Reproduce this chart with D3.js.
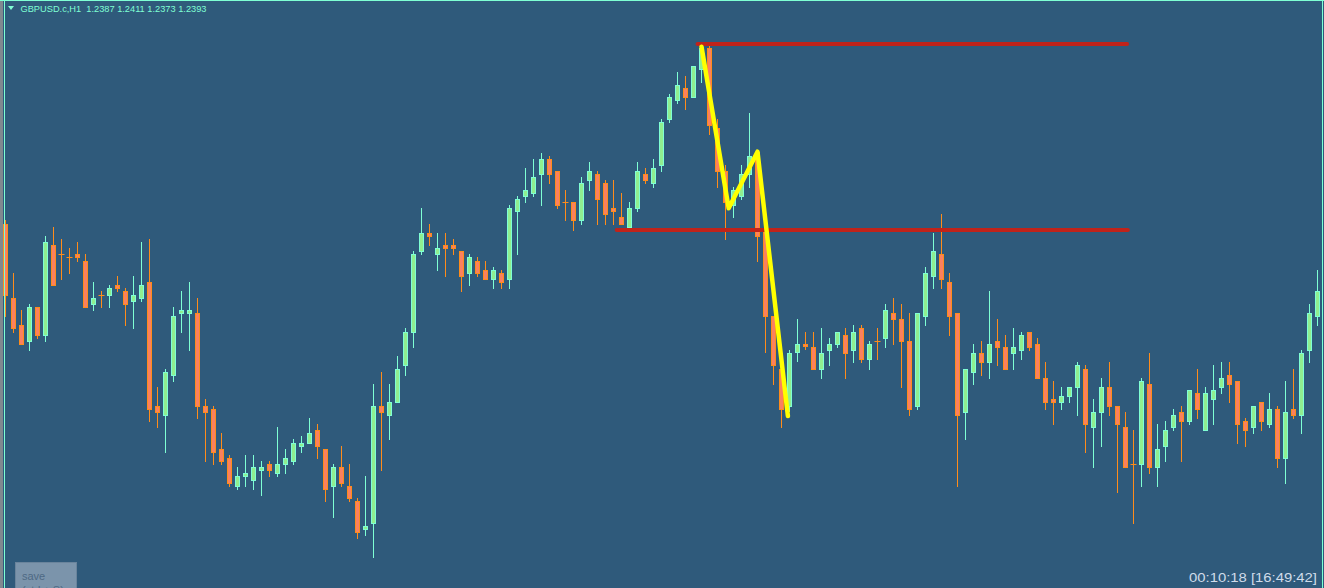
<!DOCTYPE html>
<html><head><meta charset="utf-8">
<script src="https://cdn.jsdelivr.net/npm/d3@7"></script>
<style>html,body{margin:0;padding:0;background:#2f5a7b;overflow:hidden}</style>
</head><body>
<svg id="c" width="1324" height="588"></svg>
<script>
// GBPUSD.c H1 candles
const opens = [1.2476,1.2402,1.2375,1.2358,1.2393,1.2364,1.2455,1.2446,1.2443,1.2446,1.2439,1.2395,1.2405,1.2404,1.2415,1.2409,1.2398,1.2401,1.2418,1.2294,1.2284,1.2324,1.2386,1.2386,1.2387,1.2294,1.2291,1.2251,1.2242,1.2213,1.2223,1.2219,1.2229,1.2236,1.2226,1.2235,1.2238,1.2253,1.2256,1.2270,1.2251,1.2213,1.2233,1.2214,1.2199,1.2170,1.2176,1.2294,1.2284,1.2297,1.2334,1.2367,1.2448,1.2467,1.2445,1.2455,1.2455,1.2449,1.2426,1.2439,1.2430,1.2420,1.2427,1.2420,1.2488,1.2503,1.2506,1.2525,1.2541,1.2529,1.2498,1.2498,1.2479,1.2519,1.2526,1.2517,1.2492,1.2483,1.2472,1.2491,1.2526,1.2516,1.2534,1.2580,1.2599,1.2612,1.2602,1.2630,1.2652,1.2572,1.2529,1.2494,1.2503,1.2525,1.2548,1.2470,1.2384,1.2331,1.2293,1.2347,1.2356,1.2353,1.2330,1.2349,1.2355,1.2365,1.2349,1.2372,1.2340,1.2359,1.2361,1.2387,1.2381,1.2359,1.2293,1.2383,1.2423,1.2446,1.2418,1.2387,1.2287,1.2327,1.2347,1.2337,1.2359,1.2353,1.2346,1.2349,1.2368,1.2356,1.2322,1.2301,1.2297,1.2303,1.2312,1.2331,1.2272,1.2287,1.2313,1.2294,1.2273,1.2236,1.2235,1.2316,1.2232,1.2253,1.2272,1.2288,1.2278,1.2307,1.2269,1.2300,1.2312,1.2325,1.2319,1.2279,1.2272,1.2298,1.2275,1.2291,1.2241,1.2291,1.2284,1.2349,1.2383];
const highs = [1.2480,1.2427,1.2390,1.2396,1.2393,1.2464,1.2473,1.2461,1.2452,1.2458,1.2446,1.2418,1.2409,1.2415,1.2424,1.2412,1.2424,1.2458,1.2461,1.2313,1.2331,1.2393,1.2409,1.2418,1.2402,1.2301,1.2294,1.2267,1.2245,1.2233,1.2245,1.2245,1.2239,1.2239,1.2273,1.2251,1.2261,1.2264,1.2282,1.2276,1.2251,1.2236,1.2254,1.2236,1.2202,1.2224,1.2316,1.2328,1.2316,1.2344,1.2372,1.2449,1.2492,1.2476,1.2467,1.2467,1.2461,1.2449,1.2446,1.2443,1.2439,1.2433,1.2430,1.2495,1.2504,1.2532,1.2541,1.2547,1.2544,1.2529,1.2510,1.2498,1.2523,1.2538,1.2529,1.2520,1.2520,1.2507,1.2498,1.2538,1.2532,1.2541,1.2581,1.2606,1.2628,1.2624,1.2634,1.2655,1.2656,1.2581,1.2535,1.2513,1.2535,1.2587,1.2550,1.2472,1.2384,1.2331,1.2350,1.2381,1.2368,1.2368,1.2372,1.2362,1.2368,1.2372,1.2375,1.2375,1.2359,1.2372,1.2396,1.2402,1.2396,1.2387,1.2387,1.2433,1.2467,1.2486,1.2427,1.2387,1.2331,1.2356,1.2359,1.2409,1.2381,1.2365,1.2372,1.2368,1.2368,1.2362,1.2338,1.2319,1.2313,1.2313,1.2338,1.2335,1.2301,1.2322,1.2338,1.2294,1.2288,1.2270,1.2322,1.2347,1.2276,1.2279,1.2291,1.2294,1.2310,1.2331,1.2313,1.2335,1.2338,1.2338,1.2319,1.2282,1.2294,1.2298,1.2307,1.2294,1.2319,1.2331,1.2350,1.2396,1.2430];
const lows = [1.2383,1.2367,1.2355,1.2349,1.2361,1.2358,1.2414,1.2420,1.2426,1.2438,1.2392,1.2389,1.2392,1.2392,1.2408,1.2374,1.2371,1.2398,1.2278,1.2272,1.2247,1.2318,1.2367,1.2349,1.2281,1.2238,1.2235,1.2235,1.2213,1.2210,1.2213,1.2210,1.2204,1.2223,1.2223,1.2226,1.2235,1.2247,1.2256,1.2241,1.2198,1.2182,1.2213,1.2198,1.2161,1.2164,1.2142,1.2229,1.2260,1.2297,1.2324,1.2352,1.2445,1.2454,1.2429,1.2423,1.2445,1.2408,1.2414,1.2423,1.2420,1.2411,1.2411,1.2411,1.2445,1.2497,1.2503,1.2494,1.2516,1.2491,1.2479,1.2469,1.2475,1.2509,1.2475,1.2475,1.2475,1.2475,1.2471,1.2488,1.2516,1.2512,1.2528,1.2577,1.2596,1.2590,1.2602,1.2617,1.2565,1.2512,1.2460,1.2482,1.2500,1.2512,1.2438,1.2347,1.2315,1.2272,1.2288,1.2338,1.2350,1.2330,1.2321,1.2334,1.2352,1.2321,1.2337,1.2337,1.2330,1.2340,1.2352,1.2355,1.2312,1.2284,1.2290,1.2374,1.2411,1.2411,1.2364,1.2213,1.2260,1.2315,1.2324,1.2321,1.2334,1.2330,1.2330,1.2340,1.2349,1.2321,1.2290,1.2275,1.2290,1.2297,1.2284,1.2247,1.2232,1.2253,1.2284,1.2207,1.2232,1.2176,1.2213,1.2226,1.2213,1.2238,1.2269,1.2238,1.2275,1.2281,1.2269,1.2275,1.2306,1.2297,1.2256,1.2253,1.2266,1.2269,1.2272,1.2232,1.2216,1.2281,1.2266,1.2337,1.2374];
const closes = [1.2404,1.2371,1.2355,1.2393,1.2364,1.2458,1.2414,1.2446,1.2443,1.2442,1.2392,1.2402,1.2405,1.2412,1.2411,1.2395,1.2405,1.2415,1.2290,1.2287,1.2328,1.2384,1.2390,1.2390,1.2293,1.2287,1.2247,1.2238,1.2216,1.2224,1.2227,1.2233,1.2233,1.2229,1.2236,1.2242,1.2257,1.2257,1.2267,1.2253,1.2210,1.2233,1.2216,1.2201,1.2167,1.2174,1.2294,1.2287,1.2298,1.2331,1.2368,1.2446,1.2467,1.2463,1.2452,1.2451,1.2451,1.2423,1.2443,1.2426,1.2420,1.2430,1.2417,1.2492,1.2501,1.2510,1.2523,1.2541,1.2525,1.2494,1.2498,1.2479,1.2517,1.2529,1.2500,1.2485,1.2488,1.2475,1.2492,1.2529,1.2519,1.2532,1.2578,1.2603,1.2615,1.2602,1.2634,1.2652,1.2574,1.2528,1.2497,1.2510,1.2526,1.2544,1.2463,1.2383,1.2334,1.2290,1.2347,1.2356,1.2353,1.2330,1.2347,1.2356,1.2368,1.2346,1.2368,1.2340,1.2356,1.2359,1.2390,1.2380,1.2358,1.2290,1.2387,1.2427,1.2449,1.2420,1.2383,1.2284,1.2331,1.2347,1.2337,1.2356,1.2352,1.2330,1.2353,1.2365,1.2352,1.2321,1.2297,1.2297,1.2304,1.2313,1.2335,1.2275,1.2288,1.2313,1.2293,1.2275,1.2232,1.2236,1.2319,1.2232,1.2251,1.2270,1.2285,1.2278,1.2310,1.2290,1.2307,1.2310,1.2322,1.2315,1.2275,1.2269,1.2294,1.2278,1.2291,1.2241,1.2288,1.2284,1.2347,1.2387,1.2409];

// drawn objects: horizontal levels and zigzag
const levelPrices = [1.2656, 1.2470];
const levelStart = [86.5, 76.4];
const levelEnd = [140.2, 140.3];
const zigIndex = [87, 90.4, 94, 97.8];
const zigPrice = [1.26533, 1.24917, 1.25483, 1.2284];

const headerText = "GBPUSD.c,H1  1.2387 1.2411 1.2373 1.2393";
const timerText = "00:10:18 [16:49:42]";

const W = 1324, H = 588;
const svg = d3.select("#c");
svg.append("rect").attr("width", W).attr("height", H).attr("fill", "#2f5a7b");

const x = d3.scaleLinear().domain([0, opens.length - 1]).range([5.5, 1317.5]);
const y = d3.scaleLinear().domain([1.27, 1.2112]).range([0, 588]);

const data = opens.map((o, i) => ({i, o, h: highs[i], l: lows[i], c: closes[i]}));
const BULL_EDGE = "#7fffd4", BULL_FILL = "#90ee90";
const BEAR_EDGE = "#ff8c1a", BEAR_FILL = "#fa8060";

const g = svg.append("g");
// wicks
g.selectAll("line.wick").data(data).join("line")
  .attr("x1", d => x(d.i)).attr("x2", d => x(d.i))
  .attr("y1", d => Math.round(y(d.h))).attr("y2", d => Math.round(y(d.l)))
  .attr("stroke", d => d.c > d.o ? BULL_EDGE : BEAR_EDGE).attr("stroke-width", 1);
// bodies
data.forEach(d => {
  const top = Math.round(y(Math.max(d.o, d.c)));
  const bot = Math.round(y(Math.min(d.o, d.c)));
  const cx = x(d.i);
  if (bot - top < 2) {
    g.append("line").attr("x1", cx - 3).attr("x2", cx + 3)
      .attr("y1", top + 0.5).attr("y2", top + 0.5)
      .attr("stroke", d.c > d.o ? BULL_EDGE : BEAR_EDGE).attr("stroke-width", 1);
  } else {
    const bull = d.c > d.o;
    g.append("rect").attr("x", cx - 2).attr("width", 4)
      .attr("y", top + 0.5).attr("height", bot - top - 1)
      .attr("fill", bull ? BULL_FILL : BEAR_FILL)
      .attr("stroke", bull ? BULL_EDGE : BEAR_EDGE).attr("stroke-width", 1);
  }
});

// red levels
levelPrices.forEach((p, k) => {
  svg.append("line")
    .attr("x1", x(levelStart[k])).attr("x2", x(levelEnd[k]))
    .attr("y1", y(p)).attr("y2", y(p))
    .attr("stroke", "#c0231a").attr("stroke-width", 4).attr("stroke-linecap", "round");
});

// yellow zigzag
const zig = zigIndex.map((v, k) => [x(v), y(zigPrice[k])]);
svg.append("path").attr("d", d3.line()(zig))
  .attr("fill", "none").attr("stroke", "#ffff00").attr("stroke-width", 4.5)
  .attr("stroke-linejoin", "round").attr("stroke-linecap", "round");

// borders
svg.append("rect").attr("x", 0).attr("y", 0).attr("width", 3).attr("height", H).attr("fill", "#808890");
svg.append("line").attr("x1", 4.5).attr("x2", 4.5).attr("y1", 0).attr("y2", H).attr("stroke", "#7fffd4");
svg.append("line").attr("x1", 0).attr("x2", W).attr("y1", 0.5).attr("y2", 0.5).attr("stroke", "#7fffd4");
svg.append("line").attr("x1", 1322.5).attr("x2", 1322.5).attr("y1", 0).attr("y2", H).attr("stroke", "#7fffd4");

// header
svg.append("path").attr("d", "M8,6 L14,6 L11,10 Z").attr("fill", "#7fffd4");
svg.append("text").attr("x", 20.5).attr("y", 11.5)
  .attr("font-family", "Liberation Sans, Arial, sans-serif").attr("font-size", 9)
  .attr("fill", "#7fffd4").attr("textLength", 186).attr("lengthAdjust", "spacingAndGlyphs")
  .attr("xml:space", "preserve").style("white-space", "pre")
  .text(headerText);

// save button
svg.append("rect").attr("x", 15.5).attr("y", 562.5).attr("width", 61).attr("height", 40)
  .attr("fill", "#7b94ab").attr("stroke", "#6a849c");
svg.append("text").attr("x", 22).attr("y", 579.5).attr("font-family", "Liberation Sans, Arial, sans-serif")
  .attr("font-size", 11).attr("fill", "#4e6984").text("save");
svg.append("text").attr("x", 22).attr("y", 594).attr("font-family", "Liberation Sans, Arial, sans-serif")
  .attr("font-size", 11).attr("fill", "#4e6984").text("(ctrl + S)");

// timer
svg.append("text").attr("x", 1317).attr("y", 582).attr("text-anchor", "end")
  .attr("font-family", "Liberation Sans, Arial, sans-serif").attr("font-size", 12.5)
  .attr("fill", "#d0dcea").attr("textLength", 128).attr("lengthAdjust", "spacingAndGlyphs")
  .text(timerText);
</script>
</body></html>
